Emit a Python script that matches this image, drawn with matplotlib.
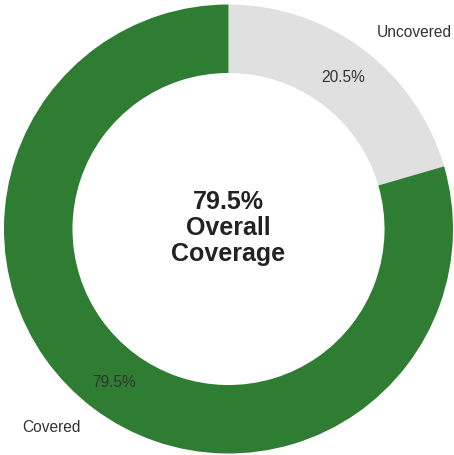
import matplotlib
matplotlib.use("Agg")
import matplotlib.pyplot as plt

# Coverage breakdown
labels = ["Uncovered", "Covered"]
shares = [20.5, 79.5]
colors = ["#e0e0e0", "#2e7d32"]
overall = 79.5

plt.rcParams["font.family"] = ["Liberation Sans", "DejaVu Sans"]

W, H = 454, 456
fig = plt.figure(figsize=(W / 100, H / 100), dpi=100)
ax = fig.add_axes([0, 0, 1, 1])

cx, cy, r = 228.5, 226.0, 224.5

wedges, texts, autotexts = ax.pie(
    shares,
    labels=labels,
    colors=colors,
    startangle=90,
    counterclock=False,
    center=(cx, cy),
    radius=r,
    labeldistance=1.1,
    pctdistance=0.85,
    autopct="%1.1f%%",
    wedgeprops=dict(width=0.305 * r, linewidth=0),
    textprops=dict(fontsize=11.2, color="#333333"),
    frame=True,
)
ax.set_xlim(0, W)
ax.set_ylim(0, H)
ax.set_aspect("equal")
ax.axis("off")

# outer labels aligned away from the ring centre
for t in texts:
    x, _ = t.get_position()
    t.set_ha("left" if x > cx else "right")

ax.text(cx, cy + 2, f"{overall}%\nOverall\nCoverage", ha="center", va="center",
        fontsize=18, fontweight="bold", color="#222222", linespacing=1.1)

fig.savefig("out.png", dpi=100, facecolor="white")
